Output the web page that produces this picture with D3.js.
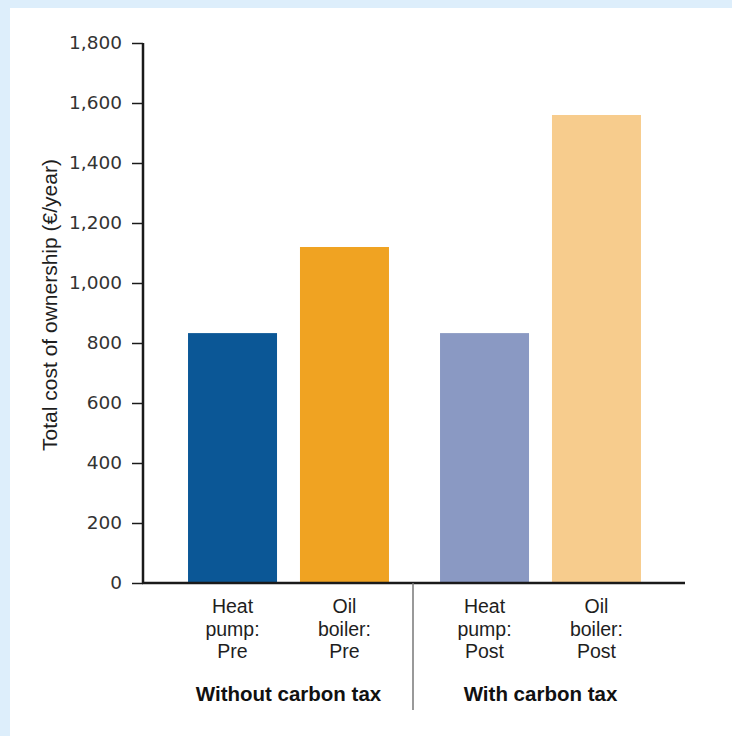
<!DOCTYPE html>
<html>
<head>
<meta charset="utf-8">
<script src="https://cdn.jsdelivr.net/npm/d3@7"></script>
<style>
  html, body { margin: 0; padding: 0; background: #ddeefb; }
  svg { display: block; }
</style>
</head>
<body>
<svg id="chart" width="732" height="736"></svg>
<script>
// Annual total cost of ownership, heat pump vs oil boiler, before/after a carbon tax
const groups = ["Without carbon tax", "With carbon tax"];
const technologies = ["Heat pump", "Oil boiler"];
const categoryLabels = [
  ["Heat", "pump:", "Pre"],
  ["Oil", "boiler:", "Pre"],
  ["Heat", "pump:", "Post"],
  ["Oil", "boiler:", "Post"]
];
const costValues = [833, 1120, 833, 1560];
const barColors = ["#0b5796", "#f0a322", "#8a99c3", "#f7cc8d"];
const yTicks = [0, 200, 400, 600, 800, 1000, 1200, 1400, 1600, 1800];

const labelFont = "'Liberation Sans', Arial, sans-serif";
const tickFont = "'DejaVu Sans', Verdana, sans-serif";

const svg = d3.select("#chart");

// white panel
svg.append("rect").attr("x", 10).attr("y", 8).attr("width", 722).attr("height", 728).attr("fill", "#ffffff");

const y = d3.scaleLinear().domain([0, 1800]).range([583, 43]);

const xGroup = d3.scaleBand().domain(groups).range([162.5, 666.5]).padding(0);
const xInner = d3.scaleBand().domain(technologies).range([0, xGroup.bandwidth()])
  .paddingInner(0.205).paddingOuter(0.228);

const bars = costValues.map((v, i) => ({
  group: groups[Math.floor(i / 2)],
  tech: technologies[i % 2],
  value: v,
  color: barColors[i],
  label: categoryLabels[i]
}));

const barX = d => xGroup(d.group) + xInner(d.tech);

svg.append("g").selectAll("rect").data(bars).join("rect")
  .attr("x", barX)
  .attr("y", d => y(d.value))
  .attr("width", xInner.bandwidth())
  .attr("height", d => y(0) - y(d.value))
  .attr("fill", d => d.color);

// y axis
const yAxis = svg.append("g").attr("transform", "translate(143,0)")
  .call(d3.axisLeft(y).tickValues(yTicks).tickSize(11).tickPadding(10).tickFormat(d3.format(",")));
yAxis.select(".domain").attr("stroke", "#1a1a1a").attr("stroke-width", 2.5).attr("d", "M0,43V583");
yAxis.selectAll(".tick line").attr("stroke", "#1a1a1a").attr("stroke-width", 1.5);
yAxis.selectAll(".tick text")
  .attr("fill", "#333")
  .style("font-family", tickFont)
  .style("font-size", "18.5px");

// x baseline
svg.append("line").attr("x1", 142).attr("x2", 685).attr("y1", y(0)).attr("y2", y(0))
  .attr("stroke", "#1a1a1a").attr("stroke-width", 2.5);

// divider between the two groups
svg.append("line").attr("x1", 413).attr("x2", 413).attr("y1", y(0)).attr("y2", 710)
  .attr("stroke", "#777").attr("stroke-width", 1.5);

// category labels
const catG = svg.append("g").selectAll("text").data(bars).join("text")
  .attr("x", d => barX(d) + xInner.bandwidth() / 2)
  .attr("y", 613)
  .attr("text-anchor", "middle")
  .attr("fill", "#1e1e1e")
  .style("font-family", labelFont)
  .style("font-size", "19.5px");
catG.selectAll("tspan").data(d => d.label).join("tspan")
  .attr("x", function () { return d3.select(this.parentNode).attr("x"); })
  .attr("dy", (d, i) => i === 0 ? 0 : 22.5)
  .text(d => d);

// group labels
svg.append("g").selectAll("text").data(groups).join("text")
  .attr("x", d => xGroup(d) + xGroup.bandwidth() / 2)
  .attr("y", 701)
  .attr("text-anchor", "middle")
  .attr("fill", "#111")
  .style("font-family", labelFont)
  .style("font-size", "20.5px")
  .style("font-weight", "bold")
  .text(d => d);

// y axis title
svg.append("text")
  .attr("transform", "translate(57,305) rotate(-90)")
  .attr("text-anchor", "middle")
  .attr("fill", "#1e1e1e")
  .style("font-family", labelFont)
  .style("font-size", "21px")
  .text("Total cost of ownership (€/year)");
</script>
</body>
</html>
